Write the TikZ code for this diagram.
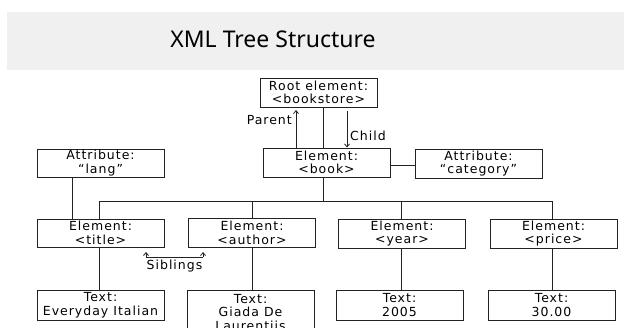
\documentclass[tikz,border=0pt]{standalone}
\usepackage{fontspec}
\setmainfont{DejaVu Sans}
\newfontfamily\headfont{Noto Sans}
\newfontfamily\boxfont[LetterSpace=8]{DejaVu Sans}
\usetikzlibrary{arrows.meta}
\definecolor{bandgray}{HTML}{F0F0F0}
\definecolor{inkline}{HTML}{222222}
\tikzset{
  xmlbox/.style={draw=inkline, line width=0.9pt, minimum width=127, minimum height=29,
    inner sep=0pt, align=center, font=\boxfont\fontsize{12.5}{13.5}\selectfont},
  link/.style={draw=inkline, line width=0.9pt},
  relarrow/.style={draw=inkline, line width=0.8pt, -{Straight Barb[length=3pt,width=5pt]}},
  rellabel/.style={font=\boxfont\fontsize{12.5}{13.5}\selectfont, inner sep=0pt}
}
\begin{document}
\begin{tikzpicture}[x=1pt,y=-1pt]
  \clip (0,0) rectangle (624,328);
  \fill[white] (0,0) rectangle (624,328);
  % heading band
  \fill[bandgray] (7,12) rectangle (624,70);
  \node[font=\headfont\fontsize{23}{26}\selectfont, text=black] (heading) at (273,39) {XML Tree Structure};

  % tree nodes
  \node[xmlbox, minimum width=117] (root) at (318.5,92.5) {Root element:\\<bookstore>};
  \node[xmlbox] (book) at (326.5,162.5) {Element:\\<book>};
  \node[xmlbox, minimum height=28] (lang) at (100.5,163) {Attribute:\\\char"201C lang\char"201D};
  \node[xmlbox] (category) at (478.5,163.5) {Attribute:\\\char"201C category\char"201D};
  \node[xmlbox, minimum height=28] (title) at (100.5,233) {Element:\\<title>};
  \node[xmlbox] (author) at (252,233) {Element:\\<author>};
  \node[xmlbox] (year) at (402,233.5) {Element:\\<year>};
  \node[xmlbox] (price) at (553.5,233.5) {Element:\\<price>};
  \node[xmlbox, minimum height=30] (ttitle) at (100.5,305) {Text:\\Everyday Italian};
  \node[xmlbox, minimum height=44, anchor=north] (tauthor) at (250.5,290) {Text:\\Giada De\\Laurentiis};
  \node[xmlbox, minimum height=30] (tyear) at (399.5,305) {Text:\\2005};
  \node[xmlbox, minimum height=30] (tprice) at (551.5,305) {Text:\\30.00};

  % guide coordinates for the connector columns and rows
  \coordinate (spine) at (323,0);
  \coordinate (langcol) at (72,0);
  \coordinate (titlecol) at (99,0);
  \coordinate (authorcol) at (252,0);
  \coordinate (yearcol) at (401,0);
  \coordinate (pricecol) at (552,0);
  \coordinate (bus) at (0,201);
  \coordinate (attrrow) at (0,165);

  % connectors
  \draw[link] (spine |- root.south) -- (spine |- book.north);
  \draw[link] (spine |- book.south) -- (spine |- bus);
  \draw[link] (titlecol |- bus) -- (pricecol |- bus);
  \draw[link] (book.east |- attrrow) -- (category.west |- attrrow);
  \draw[link] (langcol |- lang.south) -- (langcol |- title.north);
  \foreach \c/\e/\t in {titlecol/title/ttitle, authorcol/author/tauthor, yearcol/year/tyear, pricecol/price/tprice}{
    \draw[link] (\c |- bus) -- (\c |- \e.north);
    \draw[link] (\c |- \e.south) -- (\c |- \t.north);
  }

  % relation arrows
  \coordinate (parentcol) at (296,0);
  \coordinate (childcol) at (347,0);
  \draw[relarrow] (parentcol |- book.north) -- (296,110) coordinate (parenttip);
  \node[rellabel, anchor=east] (parentlbl) at (292,120) {Parent};
  \draw[relarrow] (childcol |- root.south) ++(0,4) coordinate (childtail) -- (347,147.5) coordinate (childtip);
  \node[rellabel, anchor=west] (childlbl) at (350,136) {Child};

  \coordinate (sibl) at (146,257);
  \coordinate (sibr) at (203,257);
  \draw[link, line width=0.8pt] (sibl) -- (sibr);
  \draw[relarrow] (sibl) -- ++(0,-5);
  \draw[relarrow] (sibr) -- ++(0,-5);
  \node[rellabel] (siblbl) at (174.5,266) {Siblings};
\end{tikzpicture}
\end{document}
